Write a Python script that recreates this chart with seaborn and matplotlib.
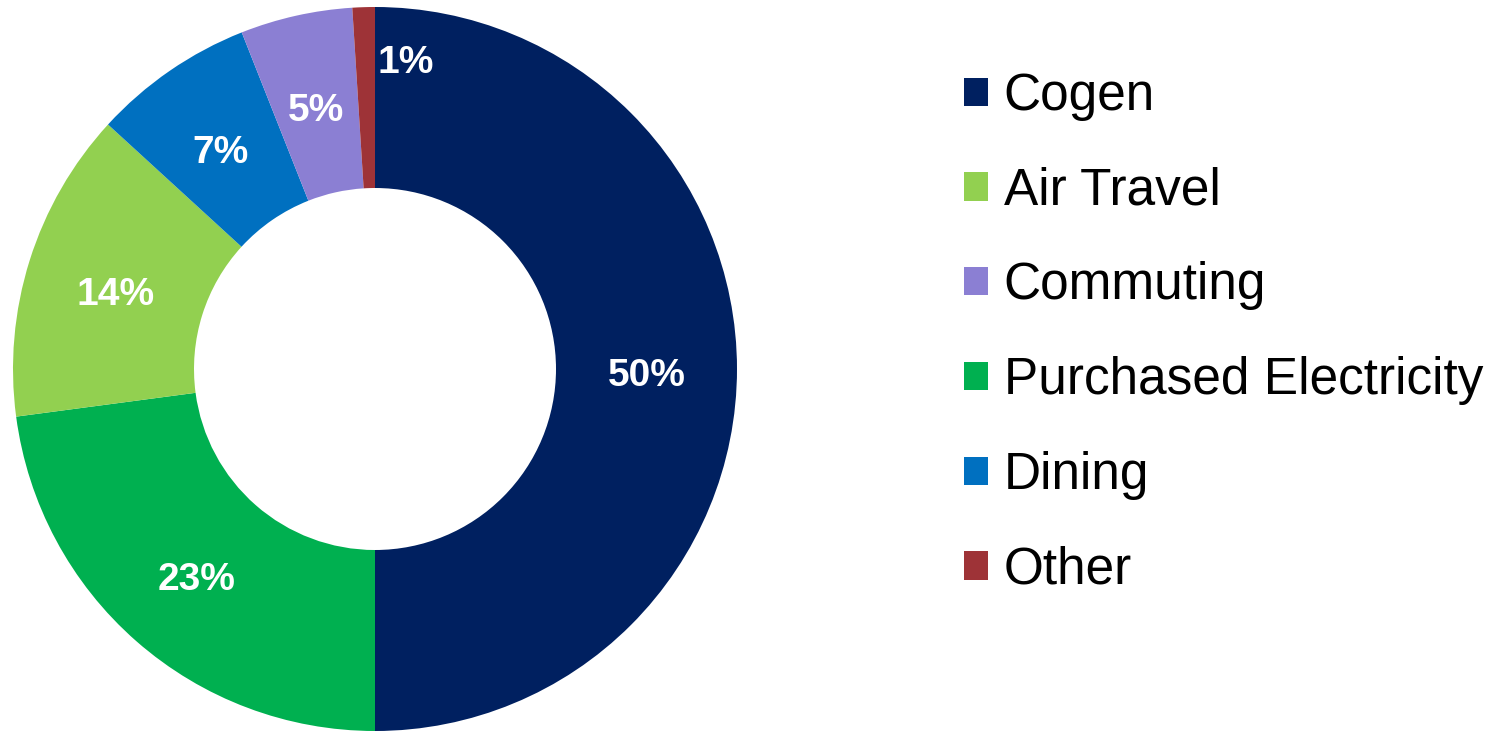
import matplotlib
matplotlib.use("Agg")
import matplotlib.pyplot as plt
import seaborn as sns
import numpy as np
from matplotlib.patches import Patch

sns.set_theme(style="white")
plt.rcParams['font.family'] = ['Liberation Sans', 'DejaVu Sans']

# Data (clockwise from 12 o'clock)
categories = ["Cogen", "Purchased Electricity", "Air Travel", "Dining", "Commuting", "Other"]
values = [50.0, 22.9, 13.9, 7.2, 5.0, 1.0]
labels_txt = ["50%", "23%", "14%", "7%", "5%", "1%"]
colors = ["#002060", "#00B050", "#92D050", "#0070C0", "#8B7FD3", "#9E3337"]
legend_order = ["Cogen", "Air Travel", "Commuting", "Purchased Electricity", "Dining", "Other"]

W, H = 1493, 731
fig = plt.figure(figsize=(W / 100, H / 100), dpi=100)
cx, cy, R = 375, 369, 362
ax = fig.add_axes([(cx - R) / W, (H - cy - R) / H, 2 * R / W, 2 * R / H])

wedges, _ = ax.pie(values, colors=colors, startangle=90, counterclock=False,
                   radius=1.0, wedgeprops=dict(width=0.5, linewidth=0),
                   normalize=True)
ax.set_xlim(-1, 1)
ax.set_ylim(-1, 1)
ax.set_aspect("equal")
ax.axis("off")

# labels at mid-ring
total = sum(values)
cum = 0
for i, (v, t) in enumerate(zip(values, labels_txt)):
    mid = cum + v / 2
    cum += v
    ang_deg = 90 - mid / total * 360
    r = 0.75
    dy = -0.02
    if categories[i] == "Other":
        ang_deg -= 7.5
        r = 0.85
        dy = 0.0
    a = np.deg2rad(ang_deg)
    ax.text(r * np.cos(a), r * np.sin(a) + dy, t, ha="center", va="center",
            color="white", fontsize=28, fontweight="bold")

color_map = dict(zip(categories, colors))
handles = [Patch(facecolor=color_map[c], edgecolor="none") for c in legend_order]
leg = fig.legend(handles, legend_order, loc="upper left",
                 bbox_to_anchor=(964 / W, 1 - 72 / H), bbox_transform=fig.transFigure,
                 frameon=False, fontsize=37, handlelength=0.47, handleheight=0.47,
                 handletextpad=0.3, labelspacing=0.89, borderpad=0, borderaxespad=0)
for txt in leg.get_texts():
    txt.set_color("black")

fig.savefig("out.png", dpi=100, facecolor="white")
